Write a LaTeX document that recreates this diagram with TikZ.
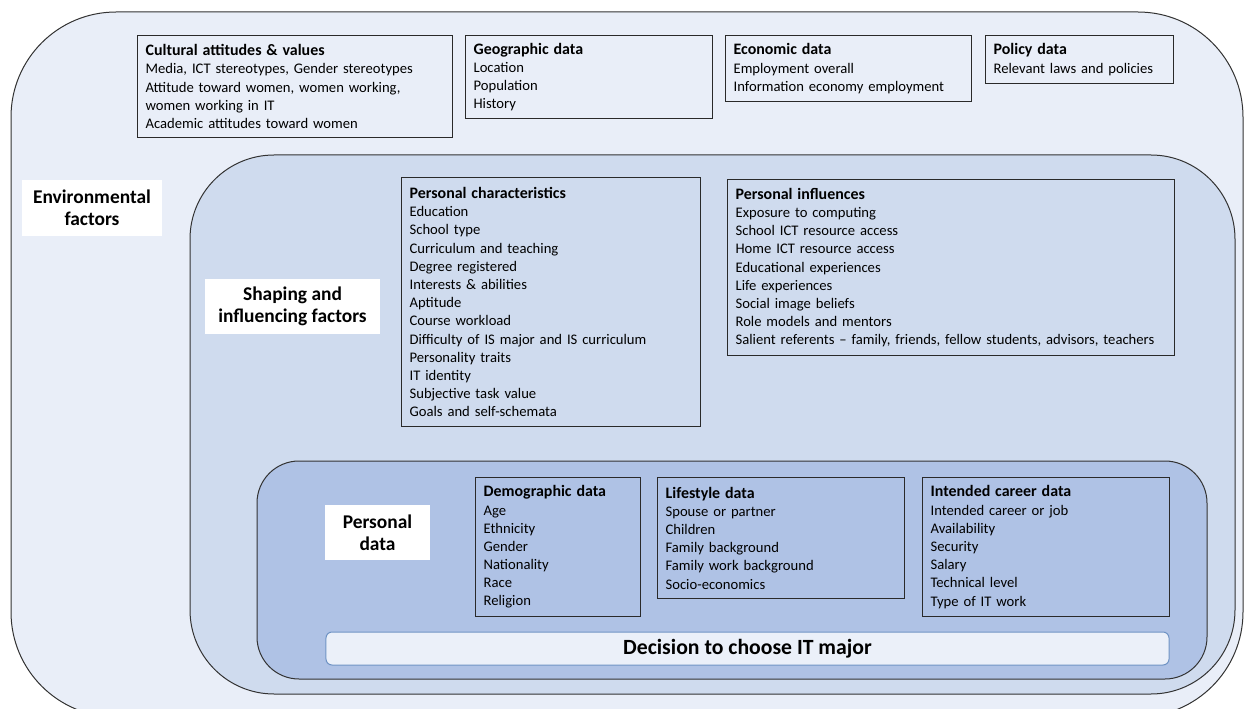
\documentclass[tikz,border=0pt]{standalone}
\usepackage{fontspec}
\setmainfont{Carlito}
\definecolor{outerfill}{HTML}{E9EEF8}
\definecolor{midfill}{HTML}{CFDBEE}
\definecolor{innerfill}{HTML}{AFC2E5}
\definecolor{framecol}{HTML}{333333}
\definecolor{boxcol}{HTML}{2A2A2A}
\definecolor{decfill}{HTML}{EBF0F9}
\definecolor{decline}{HTML}{6F93C4}
\newcommand\bodyfont{\fontsize{14.7}{18.25}\selectfont}
\newcommand\hd[1]{{\fontsize{16}{18.25}\selectfont\bfseries #1}}
\newcommand\labelfont{\fontsize{19.5}{22.5}\selectfont\bfseries}
\begin{document}
\begin{tikzpicture}[x=1bp,y=-1bp,
  frame/.style={draw=framecol, line width=1bp},
  databox/.style={draw=boxcol, line width=1.2bp, anchor=north west, align=left,
    inner xsep=8bp, inner ysep=5bp, font=\bodyfont},
  tag/.style={fill=white, align=center, font=\labelfont, inner sep=0pt}]
\useasboundingbox (0,0) rectangle (1244,709);

% nested frames
\draw[frame, fill=outerfill, rounded corners=105bp] (11,12) rectangle (1243,717);
\draw[frame, fill=midfill, rounded corners=84bp] (190,155) rectangle (1235,694);
\draw[frame, fill=innerfill, rounded corners=42bp] (257,461) rectangle (1207,679);

% environmental factors
\node[tag, minimum width=140bp, minimum height=56bp] (env) at (92,208) {Environmental\\factors};
\node[databox, text width=299bp, minimum height=102bp] (cult) at (137,35)
  {\hd{Cultural attitudes \& values}\\Media, ICT stereotypes, Gender stereotypes\\Attitude toward women, women working,\\women working in IT\\Academic attitudes toward women};
\node[databox, text width=231bp, minimum height=83bp] (geo) at (465,35)
  {\hd{Geographic data}\\Location\\Population\\History};
\node[databox, text width=230bp, minimum height=66bp] (econ) at (725,35)
  {\hd{Economic data}\\Employment overall\\Information economy employment};
\node[databox, text width=172bp, minimum height=48bp] (policy) at (985,35)
  {\hd{Policy data}\\Relevant laws and policies};

% shaping and influencing factors
\node[tag, minimum width=175bp, minimum height=55bp] (shape) at (292.5,306.5) {Shaping and\\influencing factors};
\node[databox, text width=283bp, minimum height=249bp] (pchar) at (401,177)
  {\hd{Personal characteristics}\\Education\\School type\\Curriculum and teaching\\Degree registered\\Interests \& abilities\\Aptitude\\Course workload\\Difficulty of IS major and IS curriculum\\Personality traits\\IT identity\\Subjective task value\\Goals and self-schemata};
\node[databox, text width=431bp, minimum height=176bp] (pinf) at (727,179)
  {\hd{Personal influences}\\Exposure to computing\\School ICT resource access\\Home ICT resource access\\Educational experiences\\Life experiences\\Social image beliefs\\Role models and mentors\\Salient referents – family, friends, fellow students, advisors, teachers};

% personal data
\node[tag, minimum width=105bp, minimum height=55bp] (pers) at (377.5,532.5) {Personal\\data};
\node[databox, text width=149bp, minimum height=139bp] (demo) at (475,477)
  {\hd{Demographic data}\\Age\\Ethnicity\\Gender\\Nationality\\Race\\Religion};
\node[databox, text width=231bp, minimum height=121bp] (life) at (657,477)
  {\hd{Lifestyle data}\\Spouse or partner\\Children\\Family background\\Family work background\\Socio-economics};
\node[databox, text width=231bp, minimum height=139bp] (career) at (922,477)
  {\hd{Intended career data}\\Intended career or job\\Availability\\Security\\Salary\\Technical level\\Type of IT work};

% outcome
\node[draw=decline, fill=decfill, line width=1bp, rounded corners=6bp,
  minimum width=843bp, minimum height=33bp, inner sep=0pt,
  font=\fontsize{21.8}{24}\selectfont\bfseries] (dec) at (747.5,648.5) {Decision to choose IT major};
\end{tikzpicture}
\end{document}
